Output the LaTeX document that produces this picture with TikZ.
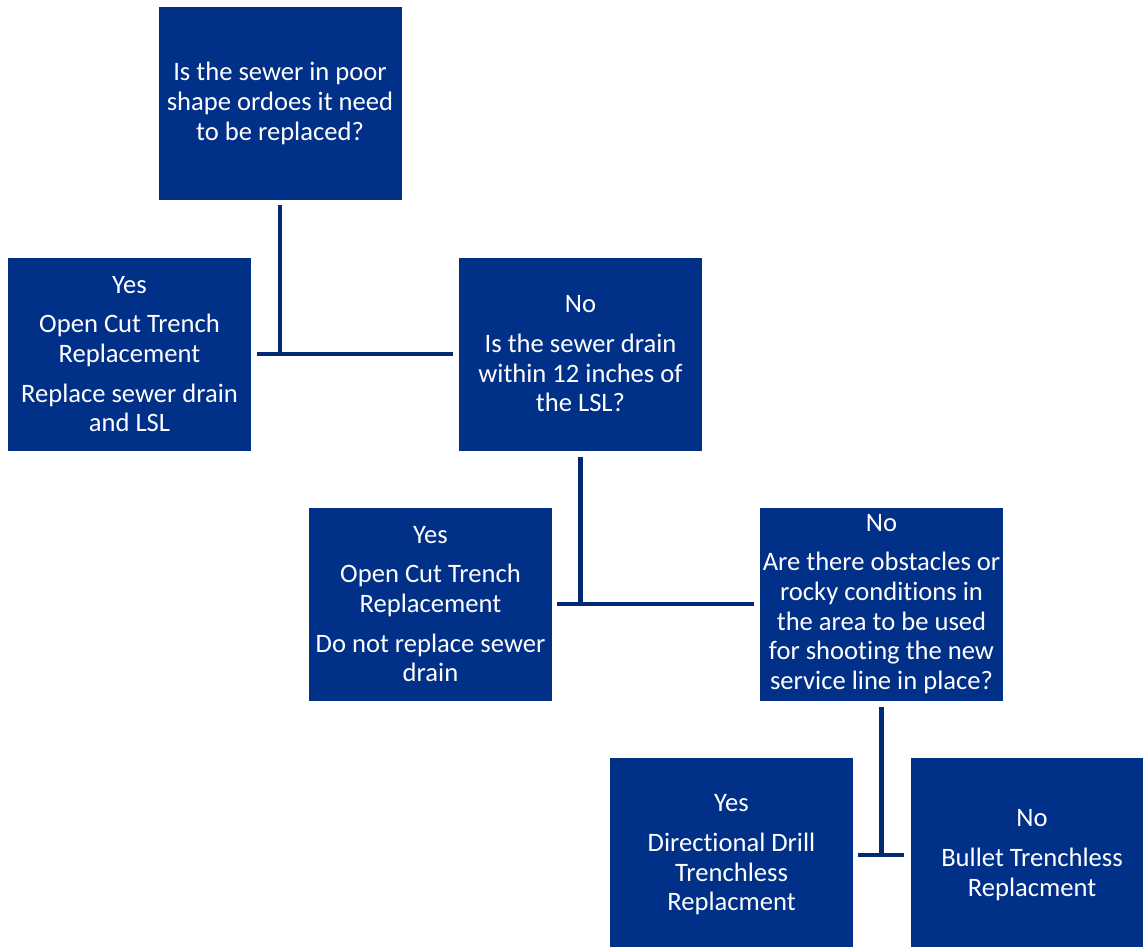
\documentclass[tikz,border=0pt]{standalone}
\usepackage{fontspec}
\setmainfont[Ligatures={NoCommon,NoContextual}]{Carlito}
\definecolor{boxblue}{RGB}{0,48,135}
\definecolor{linkblue}{RGB}{0,42,118}
\begin{document}
\begin{tikzpicture}[x=1pt,y=-1pt,
  box/.style={fill=boxblue, draw=none, minimum width=243pt, minimum height=193pt, inner sep=0pt,
    text=white, align=center, font=\fontsize{26.6}{29.7}\selectfont,
    execute at begin node={\rule{0pt}{23pt}}},
  conn/.style={draw=linkblue, line width=4.5pt}]
\useasboundingbox (0,0) rectangle (1143,947);
\clip (0,0) rectangle (1143,947);
\node[box] (q1) at (280,103.5) {Is the sewer in poor\\shape ordoes it need\\to be replaced?};
\node[box] (yes1) at (129.5,354) {Yes\\[10pt]Open Cut Trench\\Replacement\\[10pt]Replace sewer drain\\and LSL};
\node[box] (no1) at (580.5,354) {No\\[10pt]Is the sewer drain\\within 12 inches of\\the LSL?};
\node[box] (yes2) at (430.5,604) {Yes\\[10pt]Open Cut Trench\\Replacement\\[10pt]Do not replace sewer\\drain};
\node[box] (no2) at (881.5,604) {No\\[10pt]Are there obstacles or\\rocky conditions in\\the area to be used\\for shooting the new\\service line in place?};
\node[box, minimum height=194pt] (yes3) at (731.5,855) {Yes\\[10pt]Directional Drill\\Trenchless\\Replacment};
\node[box, minimum height=194pt] (no3) at (1032,855) {No\\[10pt]Bullet Trenchless\\Replacment};
\draw[conn] ([yshift=-5pt]q1.south) -- (q1.south |- yes1.center);
\draw[conn] ([xshift=6pt]yes1.east) -- ([xshift=-6pt]no1.west);
\draw[conn] ([yshift=-6pt]no1.south) -- (no1.south |- yes2.center);
\draw[conn] ([xshift=5pt]yes2.east) -- ([xshift=-6pt]no2.west);
\draw[conn] ([yshift=-6pt]no2.south) -- (no2.south |- yes3.center);
\draw[conn] ([xshift=5pt]yes3.east) -- ([xshift=-6pt]no3.west);
\end{tikzpicture}
\end{document}
